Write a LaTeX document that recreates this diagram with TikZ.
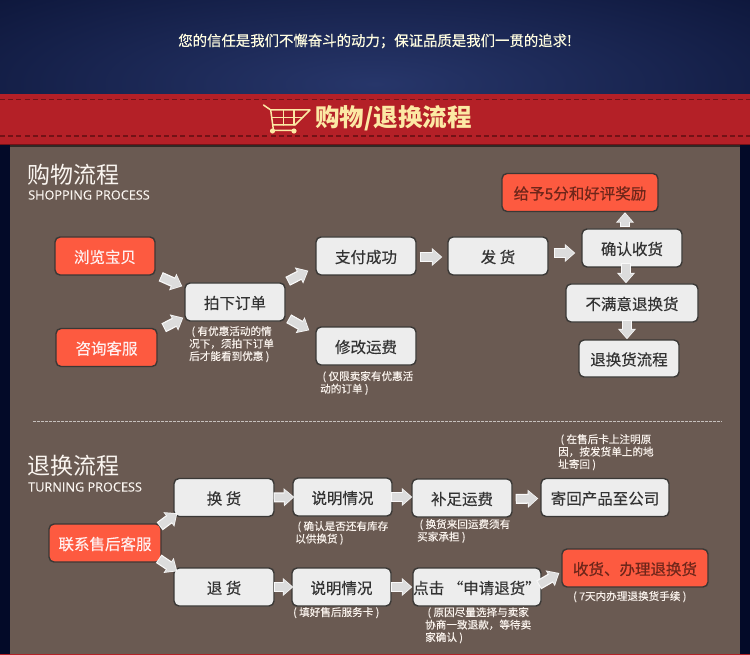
\documentclass[tikz,border=0pt]{standalone}
\usepackage{fontspec}
\setmainfont{Noto Sans CJK SC}
\newfontfamily\latinfont[FakeBold=0.3]{Open Sans}
\newfontfamily\medfont[FakeBold=0.35]{Noto Sans CJK SC}
\usetikzlibrary{arrows.meta}
\definecolor{navydark}{HTML}{030A28}
\definecolor{navylight}{HTML}{27366A}
\definecolor{ribbonred}{HTML}{B42027}
\definecolor{stitchred}{HTML}{731216}
\definecolor{panelbrown}{HTML}{6A5A52}
\definecolor{boxgrey}{HTML}{EDEDED}
\definecolor{boxline}{HTML}{3A3836}
\definecolor{boxred}{HTML}{FD5A40}
\definecolor{arrowgrey}{HTML}{DCDCDC}
\definecolor{creamtext}{HTML}{FCE9A4}
\definecolor{darkred}{HTML}{6E261A}
\tikzset{
  box/.style={draw=boxline,line width=1.4pt,fill=boxgrey,rounded corners=5pt,inner sep=0pt,
    minimum height=38pt,minimum width=100pt,text=black!80,text height=15.5pt,text depth=1.7pt,
    font=\fontsize{15.5}{15.5}\selectfont\medfont},
  redbox/.style={box,fill=boxred,text=white!94!red},
  darkbox/.style={redbox,text=darkred},
  note/.style={anchor=north west,inner sep=0pt,align=left,text=white!90!brown,
    font=\fontsize{10.6}{12.5}\selectfont\medfont},
  fatarrow/.style={draw=arrowgrey,line width=7.5pt,shorten >=1.2pt,shorten <=1pt,
    -{Triangle[length=8.5pt,width=14.5pt]},
    preaction={draw=white!95!gray,line width=10pt,shorten >=0pt,shorten <=0pt,
      -{Triangle[length=10.5pt,width=17.5pt]}}},
  cartline/.style={draw=creamtext,line width=1.5pt,line cap=round,line join=round},
  heading/.style={anchor=west,inner sep=0pt,text=white!92!brown}
}
\begin{document}
\begin{tikzpicture}[x=1pt,y=-1pt]
\useasboundingbox (0,0) rectangle (750,655);
\fill[navydark] (0,0) rectangle (750,655);
\begin{scope}
\clip (0,0) rectangle (750,94);
\shade[inner color=navylight,outer color=navydark] (375,84) ellipse (720 and 190);
\end{scope}
\node[inner sep=0pt,text=white!88!yellow,font=\fontsize{14.4}{15}\selectfont\medfont] (slogan) at (375,41) {您的信任是我们不懈奋斗的动力；保证品质是我们一贯的追求!};

\fill[panelbrown] (10,145) rectangle (740,655);
\fill[black!55!panelbrown] (10,145) rectangle (740,147.5);
\fill[ribbonred] (0,654) rectangle (750,655);
\fill[ribbonred] (0,94) rectangle (750,145);
\draw[stitchred,line width=1.2pt,dash pattern=on 5pt off 3.2pt] (0,99.5)--(750,99.5);
\draw[stitchred,line width=1.2pt,dash pattern=on 5pt off 3.2pt] (0,136)--(750,136);
\draw[stitchred,line width=1pt] (0,144.5)--(750,144.5);

\draw[cartline] (263.5,105)--(270.7,110)--(273.5,130.5)--(294,130.5);
\draw[cartline] (270.7,110)--(310,110)--(295,125)--(272.7,125);
\draw[cartline,line width=1.1pt] (271.7,117.5)--(303,117.5) (283.5,110)--(283.5,125) (294,110)--(294,125);
\fill[creamtext] (272.5,131) circle (2.6) (294,131) circle (2.6);
\node[anchor=west,inner sep=0pt,text=creamtext,font=\fontsize{24.5}{25}\selectfont\bfseries] (banner) at (315,118.5) {购物/退换流程};

\node[heading,font=\fontsize{23}{24}\selectfont] (title1) at (27,175) {购物流程};
\node[heading,font=\fontsize{12.7}{14}\selectfont\latinfont] (sub1) at (28,195) {SHOPPING PROCESS};
\node[heading,font=\fontsize{23}{24}\selectfont] (title2) at (27,466) {退换流程};
\node[heading,font=\fontsize{12.7}{14}\selectfont\latinfont] (sub2) at (28,487) {TURNING PROCESS};
\draw[white!62!panelbrown,line width=1pt,dash pattern=on 3pt off 1pt] (33,421.5)--(722,421.5);

\node[redbox] (liulan) at (105,256) {浏览宝贝};
\node[redbox,minimum width=101pt] (zixun) at (106.5,347.5) {咨询客服};
\node[box] (paixia) at (235,302) {拍下订单};
\node[box] (zhifu) at (366,256) {支付成功};
\node[box] (xiugai) at (366,346) {修改运费};
\node[box] (fahuo) at (498,256) {发 货};
\node[box] (queren) at (632,248) {确认收货};
\node[darkbox,minimum width=156pt] (geiyu) at (580,192.5) {给予5分和好评奖励};
\node[box,minimum width=132pt] (buman) at (632,303) {不满意退换货};
\node[box,minimum height=37pt] (tuihuan) at (629,358.5) {退换货流程};

\node[note] (note1) at (189,326) {\ ( 有优惠活动的情\\况下，须拍下订单\\后才能看到优惠 )};
\node[note] (note2) at (320,371) {\ ( 仅限卖家有优惠活\\动的订单 )};

\draw[fatarrow] ([shift={(5,1)}]liulan.south east)--([shift={(-2,4)}]paixia.north west);
\draw[fatarrow] ([shift={(6,0)}]zixun.north east)--([shift={(-1,-4)}]paixia.south west);
\draw[fatarrow] ([shift={(2,-1)}]paixia.north east)--([shift={(-7,-5)}]zhifu.south west);
\draw[fatarrow] ([shift={(3,-3)}]paixia.south east)--([shift={(-6,4)}]xiugai.north west);
\draw[fatarrow] ([shift={(3,1)}]zhifu.east)--([shift={(-5,1)}]fahuo.west);
\draw[fatarrow] ([shift={(5,-3)}]fahuo.east)--([shift={(-6,5)}]queren.west);
\draw[fatarrow] ([shift={(-7,-1)}]queren.north)--([shift={(45,0)}]geiyu.south);
\draw[fatarrow] ([shift={(-6,-5)}]queren.south)--([shift={(-6,0)}]buman.north);
\draw[fatarrow] ([shift={(-5,-3)}]buman.south)--([shift={(-2,0)}]tuihuan.north);

\node[redbox,minimum width=112pt] (lianxi) at (105,543) {联系售后客服};
\node[box] (huanhuo) at (224,497.5) {换 货};
\node[box] (tuihuo) at (224,587) {退 货};
\node[box,minimum width=99pt] (shuoming1) at (342.5,497) {说明情况};
\node[box,minimum width=99pt] (shuoming2) at (341.5,587) {说明情况};
\node[box] (buzu) at (462,498) {补足运费};
\node[box,minimum width=128pt] (jihui) at (605,497.5) {寄回产品至公司};
\node[box,minimum width=128pt] (dianji) at (477,587) {点击 “申请退货”};
\node[darkbox,minimum width=146pt] (shouhuo) at (635,568) {收货、办理退换货};

\node[note] (note3) at (295,521) {\ ( 确认是否还有库存\\以供换货 )};
\node[note] (note4) at (417,519) {\ ( 换货来回运费须有\\买家承担 )};
\node[note] (note5) at (558,434) {\ ( 在售后卡上注明原\\因，按发货单上的地\\址寄回 )};
\node[note] (note6) at (293,607) {( 填好售后服务卡 )};
\node[note] (note7) at (425,607) {\ ( 原因尽量选择与卖家\\协商一致退款，等待卖\\家确认 )};
\node[note] (note8) at (573,591) {( 7天内办理退换货手续 )};

\draw[fatarrow] ([shift={(-2,3)}]lianxi.north east)--([shift={(4,-4)}]huanhuo.south west);
\draw[fatarrow] ([shift={(-3,-4)}]lianxi.south east)--([shift={(4,4)}]tuihuo.north west);
\draw[fatarrow] ([shift={(-1,0)}]huanhuo.east)--([shift={(2,0)}]shuoming1.west);
\draw[fatarrow] ([shift={(-1,0)}]tuihuo.east)--([shift={(2,0)}]shuoming2.west);
\draw[fatarrow] ([shift={(-2,0)}]shuoming1.east)--([shift={(1,-1)}]buzu.west);
\draw[fatarrow] ([shift={(-1,0)}]shuoming2.east)--([shift={(0,0)}]dianji.west);
\draw[fatarrow] ([shift={(3,1)}]buzu.east)--([shift={(-2,1)}]jihui.west);
\draw[fatarrow] ([shift={(-3,-2)}]dianji.east)--([shift={(-2,5)}]shouhuo.west);
\end{tikzpicture}
\end{document}
